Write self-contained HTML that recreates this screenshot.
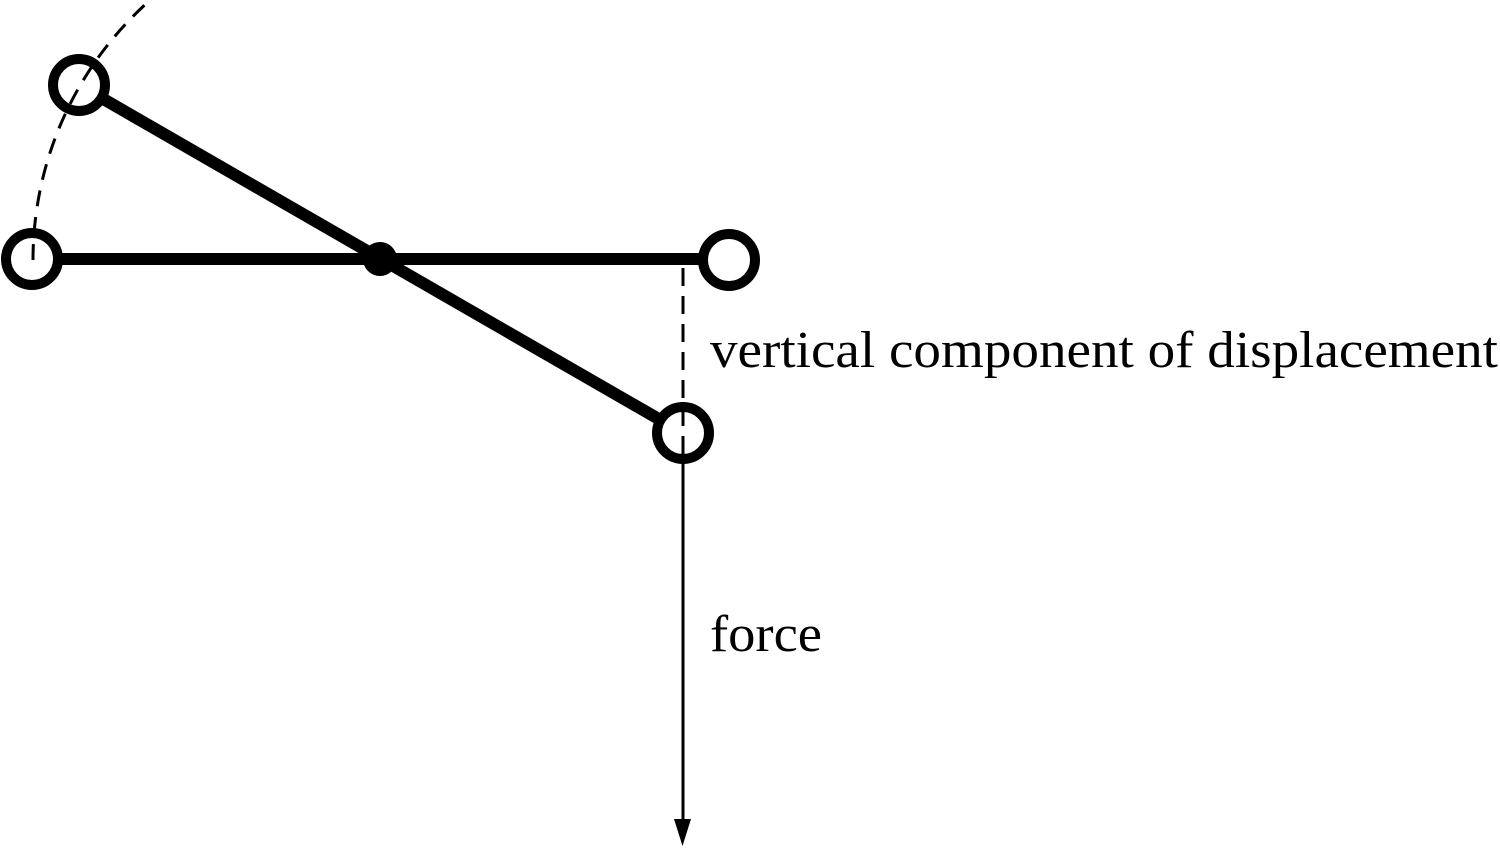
<!DOCTYPE html>
<html><head><meta charset="utf-8"><style>html,body{margin:0;padding:0;background:#fff;}svg{display:block}</style></head>
<body>
<svg width="1500" height="866" viewBox="0 0 1500 866" xmlns="http://www.w3.org/2000/svg">
<rect width="1500" height="866" fill="#fff"/>
<!-- bars -->
<line x1="32" y1="259" x2="729" y2="259" stroke="#000" stroke-width="12"/>
<line x1="79" y1="85" x2="683" y2="433" stroke="#000" stroke-width="12"/>
<!-- circles -->
<circle cx="32" cy="259" r="26" fill="#fff" stroke="#000" stroke-width="10"/>
<circle cx="79" cy="85" r="26" fill="#fff" stroke="#000" stroke-width="10"/>
<circle cx="729" cy="260" r="26" fill="#fff" stroke="#000" stroke-width="10"/>
<circle cx="683" cy="433" r="26" fill="#fff" stroke="#000" stroke-width="10"/>
<circle cx="380" cy="259" r="17" fill="#000"/>
<!-- dashed arc -->
<path d="M33 260 A347 347 0 0 1 148 2" fill="none" stroke="#000" stroke-width="3" stroke-dasharray="16 11"/>
<!-- dashed vertical -->
<line x1="683" y1="268" x2="683" y2="440" stroke="#000" stroke-width="3" stroke-dasharray="18 10"/>
<!-- force arrow -->
<line x1="683" y1="440" x2="683" y2="825" stroke="#000" stroke-width="3"/>
<polygon points="674,819 691,819 682.5,846" fill="#000"/>
<text x="710" y="367" font-family="Liberation Serif, serif" font-size="52" textLength="788" lengthAdjust="spacingAndGlyphs">vertical component of displacement</text>
<text x="710" y="651" font-family="Liberation Serif, serif" font-size="52" textLength="112" lengthAdjust="spacingAndGlyphs">force</text>
</svg>
</body></html>
